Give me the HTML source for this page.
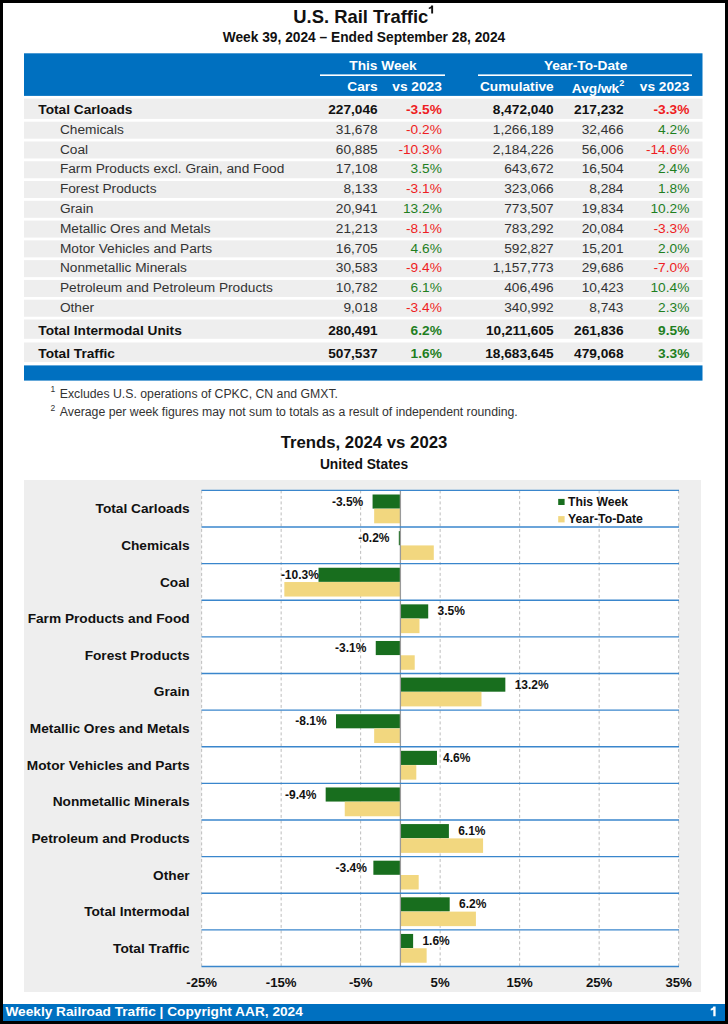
<!DOCTYPE html>
<html><head><meta charset="utf-8"><style>
html,body{margin:0;padding:0;}
body{width:728px;height:1024px;position:relative;overflow:hidden;background:#fff;font-family:"Liberation Sans",sans-serif;}
#g{position:absolute;left:0;top:0;}
.t{position:absolute;white-space:nowrap;}
</style></head><body>
<svg id="g" width="728" height="1024" viewBox="0 0 728 1024"><rect x="0.00" y="0.00" width="728.00" height="3.00" fill="#000"/><rect x="0.00" y="1021.00" width="728.00" height="3.00" fill="#000"/><rect x="0.00" y="0.00" width="3.00" height="1024.00" fill="#000"/><rect x="725.00" y="0.00" width="3.00" height="1024.00" fill="#000"/><path d="M431.2,5.4 L433.1,5.4 L433.1,13.6 L431.2,13.6 L431.2,8.2 Q430.4,8.9 428.8,9.0 L428.8,7.6 Q430.9,7.3 431.2,5.4 Z" fill="#111"/><rect x="24.00" y="53.30" width="678.50" height="42.60" fill="#0070c0"/><rect x="320.00" y="74.40" width="125.00" height="1.60" fill="#fff"/><rect x="478.00" y="74.40" width="214.00" height="1.60" fill="#fff"/><rect x="24.00" y="98.60" width="678.50" height="20.30" fill="#eeeeee"/><rect x="24.00" y="121.70" width="678.50" height="17.00" fill="#eeeeee"/><rect x="24.00" y="141.48" width="678.50" height="17.00" fill="#eeeeee"/><rect x="24.00" y="161.26" width="678.50" height="17.00" fill="#eeeeee"/><rect x="24.00" y="181.04" width="678.50" height="17.00" fill="#eeeeee"/><rect x="24.00" y="200.82" width="678.50" height="17.00" fill="#eeeeee"/><rect x="24.00" y="220.60" width="678.50" height="17.00" fill="#eeeeee"/><rect x="24.00" y="240.38" width="678.50" height="17.00" fill="#eeeeee"/><rect x="24.00" y="260.16" width="678.50" height="17.00" fill="#eeeeee"/><rect x="24.00" y="279.94" width="678.50" height="17.00" fill="#eeeeee"/><rect x="24.00" y="299.72" width="678.50" height="17.00" fill="#eeeeee"/><rect x="24.00" y="319.50" width="678.50" height="19.30" fill="#eeeeee"/><rect x="24.00" y="342.50" width="678.50" height="19.60" fill="#eeeeee"/><rect x="24.00" y="365.40" width="678.50" height="15.20" fill="#0070c0"/><rect x="24.00" y="480.00" width="677.00" height="512.00" fill="#eeeeee"/><rect x="201.50" y="490.40" width="477.50" height="476.06" fill="#fff"/><line x1="201.65" y1="490.40" x2="201.65" y2="966.46" stroke="#bdbdbd" stroke-width="1" stroke-dasharray="3,2.5"/><line x1="281.15" y1="490.40" x2="281.15" y2="966.46" stroke="#bdbdbd" stroke-width="1" stroke-dasharray="3,2.5"/><line x1="360.65" y1="490.40" x2="360.65" y2="966.46" stroke="#bdbdbd" stroke-width="1" stroke-dasharray="3,2.5"/><line x1="440.15" y1="490.40" x2="440.15" y2="966.46" stroke="#bdbdbd" stroke-width="1" stroke-dasharray="3,2.5"/><line x1="519.65" y1="490.40" x2="519.65" y2="966.46" stroke="#bdbdbd" stroke-width="1" stroke-dasharray="3,2.5"/><line x1="599.15" y1="490.40" x2="599.15" y2="966.46" stroke="#bdbdbd" stroke-width="1" stroke-dasharray="3,2.5"/><line x1="678.65" y1="490.40" x2="678.65" y2="966.46" stroke="#bdbdbd" stroke-width="1" stroke-dasharray="3,2.5"/><rect x="372.57" y="494.50" width="27.82" height="14.10" fill="#186e1e"/><rect x="374.16" y="508.80" width="26.24" height="14.50" fill="#f2d77f"/><rect x="398.81" y="531.12" width="1.59" height="14.10" fill="#186e1e"/><rect x="400.40" y="545.42" width="33.39" height="14.50" fill="#f2d77f"/><rect x="318.51" y="567.74" width="81.88" height="14.10" fill="#186e1e"/><rect x="284.33" y="582.04" width="116.07" height="14.50" fill="#f2d77f"/><rect x="400.40" y="604.36" width="27.82" height="14.10" fill="#186e1e"/><rect x="400.40" y="618.66" width="19.08" height="14.50" fill="#f2d77f"/><rect x="375.75" y="640.98" width="24.64" height="14.10" fill="#186e1e"/><rect x="400.40" y="655.28" width="14.31" height="14.50" fill="#f2d77f"/><rect x="400.40" y="677.60" width="104.94" height="14.10" fill="#186e1e"/><rect x="400.40" y="691.90" width="81.09" height="14.50" fill="#f2d77f"/><rect x="336.00" y="714.22" width="64.39" height="14.10" fill="#186e1e"/><rect x="374.16" y="728.52" width="26.24" height="14.50" fill="#f2d77f"/><rect x="400.40" y="750.84" width="36.57" height="14.10" fill="#186e1e"/><rect x="400.40" y="765.14" width="15.90" height="14.50" fill="#f2d77f"/><rect x="325.67" y="787.46" width="74.73" height="14.10" fill="#186e1e"/><rect x="344.75" y="801.76" width="55.65" height="14.50" fill="#f2d77f"/><rect x="400.40" y="824.08" width="48.50" height="14.10" fill="#186e1e"/><rect x="400.40" y="838.38" width="82.68" height="14.50" fill="#f2d77f"/><rect x="373.37" y="860.70" width="27.03" height="14.10" fill="#186e1e"/><rect x="400.40" y="875.00" width="18.29" height="14.50" fill="#f2d77f"/><rect x="400.40" y="897.32" width="49.29" height="14.10" fill="#186e1e"/><rect x="400.40" y="911.62" width="75.52" height="14.50" fill="#f2d77f"/><rect x="400.40" y="933.94" width="12.72" height="14.10" fill="#186e1e"/><rect x="400.40" y="948.24" width="26.24" height="14.50" fill="#f2d77f"/><line x1="400.40" y1="490.40" x2="400.40" y2="966.46" stroke="#9a9a9a" stroke-width="1.3"/><line x1="201.50" y1="490.40" x2="679.00" y2="490.40" stroke="#3a86cc" stroke-width="1.4"/><line x1="201.50" y1="527.02" x2="679.00" y2="527.02" stroke="#3a86cc" stroke-width="1.4"/><line x1="201.50" y1="563.64" x2="679.00" y2="563.64" stroke="#3a86cc" stroke-width="1.4"/><line x1="201.50" y1="600.26" x2="679.00" y2="600.26" stroke="#3a86cc" stroke-width="1.4"/><line x1="201.50" y1="636.88" x2="679.00" y2="636.88" stroke="#3a86cc" stroke-width="1.4"/><line x1="201.50" y1="673.50" x2="679.00" y2="673.50" stroke="#3a86cc" stroke-width="1.4"/><line x1="201.50" y1="710.12" x2="679.00" y2="710.12" stroke="#3a86cc" stroke-width="1.4"/><line x1="201.50" y1="746.74" x2="679.00" y2="746.74" stroke="#3a86cc" stroke-width="1.4"/><line x1="201.50" y1="783.36" x2="679.00" y2="783.36" stroke="#3a86cc" stroke-width="1.4"/><line x1="201.50" y1="819.98" x2="679.00" y2="819.98" stroke="#3a86cc" stroke-width="1.4"/><line x1="201.50" y1="856.60" x2="679.00" y2="856.60" stroke="#3a86cc" stroke-width="1.4"/><line x1="201.50" y1="893.22" x2="679.00" y2="893.22" stroke="#3a86cc" stroke-width="1.4"/><line x1="201.50" y1="929.84" x2="679.00" y2="929.84" stroke="#3a86cc" stroke-width="1.4"/><line x1="201.50" y1="966.46" x2="679.00" y2="966.46" stroke="#3a86cc" stroke-width="1.4"/><rect x="558.20" y="498.90" width="6.40" height="6.10" fill="#186e1e"/><rect x="558.20" y="516.10" width="6.40" height="6.30" fill="#f2d77f"/><rect x="3.00" y="1004.00" width="722.00" height="17.00" fill="#0070c0"/><path d="M713.3,1006.6 L715.6,1006.6 L715.6,1016.3 L713.3,1016.3 L713.3,1009.7 Q712.4,1010.4 710.7,1010.5 L710.7,1008.8 Q713.0,1008.5 713.3,1006.6 Z" fill="#fff"/></svg>
<div class="t" style="left:60.80px;width:600px;text-align:center;top:8px;font-size:18.4px;line-height:18.4px;font-weight:bold;color:#111111;">U.S. Rail Traffic</div>
<div class="t" style="left:64.00px;width:600px;text-align:center;top:31px;font-size:13.75px;line-height:13.75px;font-weight:bold;color:#111111;">Week 39, 2024 – Ended September 28, 2024</div>
<div class="t" style="left:83.00px;width:600px;text-align:center;top:59px;font-size:13.7px;line-height:13.7px;font-weight:bold;color:#fff;">This Week</div>
<div class="t" style="left:285.60px;width:600px;text-align:center;top:59px;font-size:13.7px;line-height:13.7px;font-weight:bold;color:#fff;">Year-To-Date</div>
<div class="t" style="right:350.30px;top:80px;font-size:13.7px;line-height:13.7px;font-weight:bold;color:#fff;">Cars</div>
<div class="t" style="right:286.20px;top:80px;font-size:13.7px;line-height:13.7px;font-weight:bold;color:#fff;">vs 2023</div>
<div class="t" style="right:174.30px;top:80px;font-size:13.7px;line-height:13.7px;font-weight:bold;color:#fff;">Cumulative</div>
<div class="t" style="right:108.80px;top:82px;font-size:13.7px;line-height:13.7px;font-weight:bold;color:#fff;">Avg/wk</div>
<div class="t" style="left:619.30px;top:79px;font-size:9.0px;line-height:9.0px;font-weight:bold;color:#fff;">2</div>
<div class="t" style="right:38.70px;top:80px;font-size:13.7px;line-height:13.7px;font-weight:bold;color:#fff;">vs 2023</div>
<div class="t" style="left:38.30px;top:103px;font-size:13.7px;line-height:13.7px;font-weight:bold;color:#111111;">Total Carloads</div>
<div class="t" style="right:350.30px;top:103px;font-size:13.7px;line-height:13.7px;font-weight:bold;color:#111111;">227,046</div>
<div class="t" style="right:286.20px;top:103px;font-size:13.7px;line-height:13.7px;font-weight:bold;color:#ee1d23;">-3.5%</div>
<div class="t" style="right:174.30px;top:103px;font-size:13.7px;line-height:13.7px;font-weight:bold;color:#111111;">8,472,040</div>
<div class="t" style="right:104.50px;top:103px;font-size:13.7px;line-height:13.7px;font-weight:bold;color:#111111;">217,232</div>
<div class="t" style="right:38.70px;top:103px;font-size:13.7px;line-height:13.7px;font-weight:bold;color:#ee1d23;">-3.3%</div>
<div class="t" style="left:59.90px;top:123px;font-size:13.7px;line-height:13.7px;color:#333333;">Chemicals</div>
<div class="t" style="right:350.30px;top:123px;font-size:13.7px;line-height:13.7px;color:#333333;">31,678</div>
<div class="t" style="right:286.20px;top:123px;font-size:13.7px;line-height:13.7px;color:#ee1d23;">-0.2%</div>
<div class="t" style="right:174.30px;top:123px;font-size:13.7px;line-height:13.7px;color:#333333;">1,266,189</div>
<div class="t" style="right:104.50px;top:123px;font-size:13.7px;line-height:13.7px;color:#333333;">32,466</div>
<div class="t" style="right:38.70px;top:123px;font-size:13.7px;line-height:13.7px;color:#1f7f1f;">4.2%</div>
<div class="t" style="left:59.90px;top:143px;font-size:13.7px;line-height:13.7px;color:#333333;">Coal</div>
<div class="t" style="right:350.30px;top:143px;font-size:13.7px;line-height:13.7px;color:#333333;">60,885</div>
<div class="t" style="right:286.20px;top:143px;font-size:13.7px;line-height:13.7px;color:#ee1d23;">-10.3%</div>
<div class="t" style="right:174.30px;top:143px;font-size:13.7px;line-height:13.7px;color:#333333;">2,184,226</div>
<div class="t" style="right:104.50px;top:143px;font-size:13.7px;line-height:13.7px;color:#333333;">56,006</div>
<div class="t" style="right:38.70px;top:143px;font-size:13.7px;line-height:13.7px;color:#ee1d23;">-14.6%</div>
<div class="t" style="left:59.90px;top:162px;font-size:13.7px;line-height:13.7px;color:#333333;">Farm Products excl. Grain, and Food</div>
<div class="t" style="right:350.30px;top:162px;font-size:13.7px;line-height:13.7px;color:#333333;">17,108</div>
<div class="t" style="right:286.20px;top:162px;font-size:13.7px;line-height:13.7px;color:#1f7f1f;">3.5%</div>
<div class="t" style="right:174.30px;top:162px;font-size:13.7px;line-height:13.7px;color:#333333;">643,672</div>
<div class="t" style="right:104.50px;top:162px;font-size:13.7px;line-height:13.7px;color:#333333;">16,504</div>
<div class="t" style="right:38.70px;top:162px;font-size:13.7px;line-height:13.7px;color:#1f7f1f;">2.4%</div>
<div class="t" style="left:59.90px;top:182px;font-size:13.7px;line-height:13.7px;color:#333333;">Forest Products</div>
<div class="t" style="right:350.30px;top:182px;font-size:13.7px;line-height:13.7px;color:#333333;">8,133</div>
<div class="t" style="right:286.20px;top:182px;font-size:13.7px;line-height:13.7px;color:#ee1d23;">-3.1%</div>
<div class="t" style="right:174.30px;top:182px;font-size:13.7px;line-height:13.7px;color:#333333;">323,066</div>
<div class="t" style="right:104.50px;top:182px;font-size:13.7px;line-height:13.7px;color:#333333;">8,284</div>
<div class="t" style="right:38.70px;top:182px;font-size:13.7px;line-height:13.7px;color:#1f7f1f;">1.8%</div>
<div class="t" style="left:59.90px;top:202px;font-size:13.7px;line-height:13.7px;color:#333333;">Grain</div>
<div class="t" style="right:350.30px;top:202px;font-size:13.7px;line-height:13.7px;color:#333333;">20,941</div>
<div class="t" style="right:286.20px;top:202px;font-size:13.7px;line-height:13.7px;color:#1f7f1f;">13.2%</div>
<div class="t" style="right:174.30px;top:202px;font-size:13.7px;line-height:13.7px;color:#333333;">773,507</div>
<div class="t" style="right:104.50px;top:202px;font-size:13.7px;line-height:13.7px;color:#333333;">19,834</div>
<div class="t" style="right:38.70px;top:202px;font-size:13.7px;line-height:13.7px;color:#1f7f1f;">10.2%</div>
<div class="t" style="left:59.90px;top:222px;font-size:13.7px;line-height:13.7px;color:#333333;">Metallic Ores and Metals</div>
<div class="t" style="right:350.30px;top:222px;font-size:13.7px;line-height:13.7px;color:#333333;">21,213</div>
<div class="t" style="right:286.20px;top:222px;font-size:13.7px;line-height:13.7px;color:#ee1d23;">-8.1%</div>
<div class="t" style="right:174.30px;top:222px;font-size:13.7px;line-height:13.7px;color:#333333;">783,292</div>
<div class="t" style="right:104.50px;top:222px;font-size:13.7px;line-height:13.7px;color:#333333;">20,084</div>
<div class="t" style="right:38.70px;top:222px;font-size:13.7px;line-height:13.7px;color:#ee1d23;">-3.3%</div>
<div class="t" style="left:59.90px;top:242px;font-size:13.7px;line-height:13.7px;color:#333333;">Motor Vehicles and Parts</div>
<div class="t" style="right:350.30px;top:242px;font-size:13.7px;line-height:13.7px;color:#333333;">16,705</div>
<div class="t" style="right:286.20px;top:242px;font-size:13.7px;line-height:13.7px;color:#1f7f1f;">4.6%</div>
<div class="t" style="right:174.30px;top:242px;font-size:13.7px;line-height:13.7px;color:#333333;">592,827</div>
<div class="t" style="right:104.50px;top:242px;font-size:13.7px;line-height:13.7px;color:#333333;">15,201</div>
<div class="t" style="right:38.70px;top:242px;font-size:13.7px;line-height:13.7px;color:#1f7f1f;">2.0%</div>
<div class="t" style="left:59.90px;top:261px;font-size:13.7px;line-height:13.7px;color:#333333;">Nonmetallic Minerals</div>
<div class="t" style="right:350.30px;top:261px;font-size:13.7px;line-height:13.7px;color:#333333;">30,583</div>
<div class="t" style="right:286.20px;top:261px;font-size:13.7px;line-height:13.7px;color:#ee1d23;">-9.4%</div>
<div class="t" style="right:174.30px;top:261px;font-size:13.7px;line-height:13.7px;color:#333333;">1,157,773</div>
<div class="t" style="right:104.50px;top:261px;font-size:13.7px;line-height:13.7px;color:#333333;">29,686</div>
<div class="t" style="right:38.70px;top:261px;font-size:13.7px;line-height:13.7px;color:#ee1d23;">-7.0%</div>
<div class="t" style="left:59.90px;top:281px;font-size:13.7px;line-height:13.7px;color:#333333;">Petroleum and Petroleum Products</div>
<div class="t" style="right:350.30px;top:281px;font-size:13.7px;line-height:13.7px;color:#333333;">10,782</div>
<div class="t" style="right:286.20px;top:281px;font-size:13.7px;line-height:13.7px;color:#1f7f1f;">6.1%</div>
<div class="t" style="right:174.30px;top:281px;font-size:13.7px;line-height:13.7px;color:#333333;">406,496</div>
<div class="t" style="right:104.50px;top:281px;font-size:13.7px;line-height:13.7px;color:#333333;">10,423</div>
<div class="t" style="right:38.70px;top:281px;font-size:13.7px;line-height:13.7px;color:#1f7f1f;">10.4%</div>
<div class="t" style="left:59.90px;top:301px;font-size:13.7px;line-height:13.7px;color:#333333;">Other</div>
<div class="t" style="right:350.30px;top:301px;font-size:13.7px;line-height:13.7px;color:#333333;">9,018</div>
<div class="t" style="right:286.20px;top:301px;font-size:13.7px;line-height:13.7px;color:#ee1d23;">-3.4%</div>
<div class="t" style="right:174.30px;top:301px;font-size:13.7px;line-height:13.7px;color:#333333;">340,992</div>
<div class="t" style="right:104.50px;top:301px;font-size:13.7px;line-height:13.7px;color:#333333;">8,743</div>
<div class="t" style="right:38.70px;top:301px;font-size:13.7px;line-height:13.7px;color:#1f7f1f;">2.3%</div>
<div class="t" style="left:38.30px;top:324px;font-size:13.7px;line-height:13.7px;font-weight:bold;color:#111111;">Total Intermodal Units</div>
<div class="t" style="right:350.30px;top:324px;font-size:13.7px;line-height:13.7px;font-weight:bold;color:#111111;">280,491</div>
<div class="t" style="right:286.20px;top:324px;font-size:13.7px;line-height:13.7px;font-weight:bold;color:#1f7f1f;">6.2%</div>
<div class="t" style="right:174.30px;top:324px;font-size:13.7px;line-height:13.7px;font-weight:bold;color:#111111;">10,211,605</div>
<div class="t" style="right:104.50px;top:324px;font-size:13.7px;line-height:13.7px;font-weight:bold;color:#111111;">261,836</div>
<div class="t" style="right:38.70px;top:324px;font-size:13.7px;line-height:13.7px;font-weight:bold;color:#1f7f1f;">9.5%</div>
<div class="t" style="left:38.30px;top:347px;font-size:13.7px;line-height:13.7px;font-weight:bold;color:#111111;">Total Traffic</div>
<div class="t" style="right:350.30px;top:347px;font-size:13.7px;line-height:13.7px;font-weight:bold;color:#111111;">507,537</div>
<div class="t" style="right:286.20px;top:347px;font-size:13.7px;line-height:13.7px;font-weight:bold;color:#1f7f1f;">1.6%</div>
<div class="t" style="right:174.30px;top:347px;font-size:13.7px;line-height:13.7px;font-weight:bold;color:#111111;">18,683,645</div>
<div class="t" style="right:104.50px;top:347px;font-size:13.7px;line-height:13.7px;font-weight:bold;color:#111111;">479,068</div>
<div class="t" style="right:38.70px;top:347px;font-size:13.7px;line-height:13.7px;font-weight:bold;color:#1f7f1f;">3.3%</div>
<div class="t" style="left:50.40px;top:385px;font-size:8.5px;line-height:8.5px;color:#333333;">1</div>
<div class="t" style="left:59.80px;top:388px;font-size:12.27px;line-height:12.27px;color:#333333;">Excludes U.S. operations of CPKC, CN and GMXT.</div>
<div class="t" style="left:50.40px;top:404px;font-size:8.5px;line-height:8.5px;color:#333333;">2</div>
<div class="t" style="left:59.80px;top:406px;font-size:12.27px;line-height:12.27px;color:#333333;">Average per week figures may not sum to totals as a result of independent rounding.</div>
<div class="t" style="left:64.00px;width:600px;text-align:center;top:435px;font-size:16.75px;line-height:16.75px;font-weight:bold;color:#111111;">Trends, 2024 vs 2023</div>
<div class="t" style="left:64.00px;width:600px;text-align:center;top:458px;font-size:13.8px;line-height:13.8px;font-weight:bold;color:#111111;">United States</div>
<div class="t" style="right:538.40px;top:502px;font-size:13.7px;line-height:13.7px;font-weight:bold;color:#111111;">Total Carloads</div>
<div class="t" style="right:364.73px;top:496px;font-size:12px;line-height:12px;font-weight:bold;color:#111111;">-3.5%</div>
<div class="t" style="right:538.40px;top:539px;font-size:13.7px;line-height:13.7px;font-weight:bold;color:#111111;">Chemicals</div>
<div class="t" style="right:338.49px;top:532px;font-size:12px;line-height:12px;font-weight:bold;color:#111111;">-0.2%</div>
<div class="t" style="right:538.40px;top:576px;font-size:13.7px;line-height:13.7px;font-weight:bold;color:#111111;">Coal</div>
<div class="t" style="right:409.10px;top:569px;font-size:12px;line-height:12px;font-weight:bold;color:#111111;">-10.3%</div>
<div class="t" style="right:538.40px;top:612px;font-size:13.7px;line-height:13.7px;font-weight:bold;color:#111111;">Farm Products and Food</div>
<div class="t" style="left:437.52px;top:605px;font-size:12px;line-height:12px;font-weight:bold;color:#111111;">3.5%</div>
<div class="t" style="right:538.40px;top:649px;font-size:13.7px;line-height:13.7px;font-weight:bold;color:#111111;">Forest Products</div>
<div class="t" style="right:361.55px;top:642px;font-size:12px;line-height:12px;font-weight:bold;color:#111111;">-3.1%</div>
<div class="t" style="right:538.40px;top:685px;font-size:13.7px;line-height:13.7px;font-weight:bold;color:#111111;">Grain</div>
<div class="t" style="left:514.64px;top:679px;font-size:12px;line-height:12px;font-weight:bold;color:#111111;">13.2%</div>
<div class="t" style="right:538.40px;top:722px;font-size:13.7px;line-height:13.7px;font-weight:bold;color:#111111;">Metallic Ores and Metals</div>
<div class="t" style="right:401.30px;top:715px;font-size:12px;line-height:12px;font-weight:bold;color:#111111;">-8.1%</div>
<div class="t" style="right:538.40px;top:759px;font-size:13.7px;line-height:13.7px;font-weight:bold;color:#111111;">Motor Vehicles and Parts</div>
<div class="t" style="left:442.97px;top:752px;font-size:12px;line-height:12px;font-weight:bold;color:#111111;">4.6%</div>
<div class="t" style="right:538.40px;top:795px;font-size:13.7px;line-height:13.7px;font-weight:bold;color:#111111;">Nonmetallic Minerals</div>
<div class="t" style="right:411.63px;top:789px;font-size:12px;line-height:12px;font-weight:bold;color:#111111;">-9.4%</div>
<div class="t" style="right:538.40px;top:832px;font-size:13.7px;line-height:13.7px;font-weight:bold;color:#111111;">Petroleum and Products</div>
<div class="t" style="left:458.19px;top:825px;font-size:12px;line-height:12px;font-weight:bold;color:#111111;">6.1%</div>
<div class="t" style="right:538.40px;top:869px;font-size:13.7px;line-height:13.7px;font-weight:bold;color:#111111;">Other</div>
<div class="t" style="right:361.13px;top:862px;font-size:12px;line-height:12px;font-weight:bold;color:#111111;">-3.4%</div>
<div class="t" style="right:538.40px;top:905px;font-size:13.7px;line-height:13.7px;font-weight:bold;color:#111111;">Total Intermodal</div>
<div class="t" style="left:458.99px;top:898px;font-size:12px;line-height:12px;font-weight:bold;color:#111111;">6.2%</div>
<div class="t" style="right:538.40px;top:942px;font-size:13.7px;line-height:13.7px;font-weight:bold;color:#111111;">Total Traffic</div>
<div class="t" style="left:422.42px;top:935px;font-size:12px;line-height:12px;font-weight:bold;color:#111111;">1.6%</div>
<div class="t" style="left:568.00px;top:496px;font-size:12.2px;line-height:12.2px;font-weight:bold;color:#111111;">This Week</div>
<div class="t" style="left:568.00px;top:513px;font-size:12.3px;line-height:12.3px;font-weight:bold;color:#111111;">Year-To-Date</div>
<div class="t" style="left:-98.35px;width:600px;text-align:center;top:976px;font-size:13.2px;line-height:13.2px;font-weight:bold;color:#111111;">-25%</div>
<div class="t" style="left:-18.85px;width:600px;text-align:center;top:976px;font-size:13.2px;line-height:13.2px;font-weight:bold;color:#111111;">-15%</div>
<div class="t" style="left:60.65px;width:600px;text-align:center;top:976px;font-size:13.2px;line-height:13.2px;font-weight:bold;color:#111111;">-5%</div>
<div class="t" style="left:140.15px;width:600px;text-align:center;top:976px;font-size:13.2px;line-height:13.2px;font-weight:bold;color:#111111;">5%</div>
<div class="t" style="left:219.65px;width:600px;text-align:center;top:976px;font-size:13.2px;line-height:13.2px;font-weight:bold;color:#111111;">15%</div>
<div class="t" style="left:299.15px;width:600px;text-align:center;top:976px;font-size:13.2px;line-height:13.2px;font-weight:bold;color:#111111;">25%</div>
<div class="t" style="left:378.65px;width:600px;text-align:center;top:976px;font-size:13.2px;line-height:13.2px;font-weight:bold;color:#111111;">35%</div>
<div class="t" style="left:5.40px;top:1005px;font-size:13.7px;line-height:13.7px;font-weight:bold;color:#fff;">Weekly Railroad Traffic | Copyright AAR, 2024</div>
</body></html>
